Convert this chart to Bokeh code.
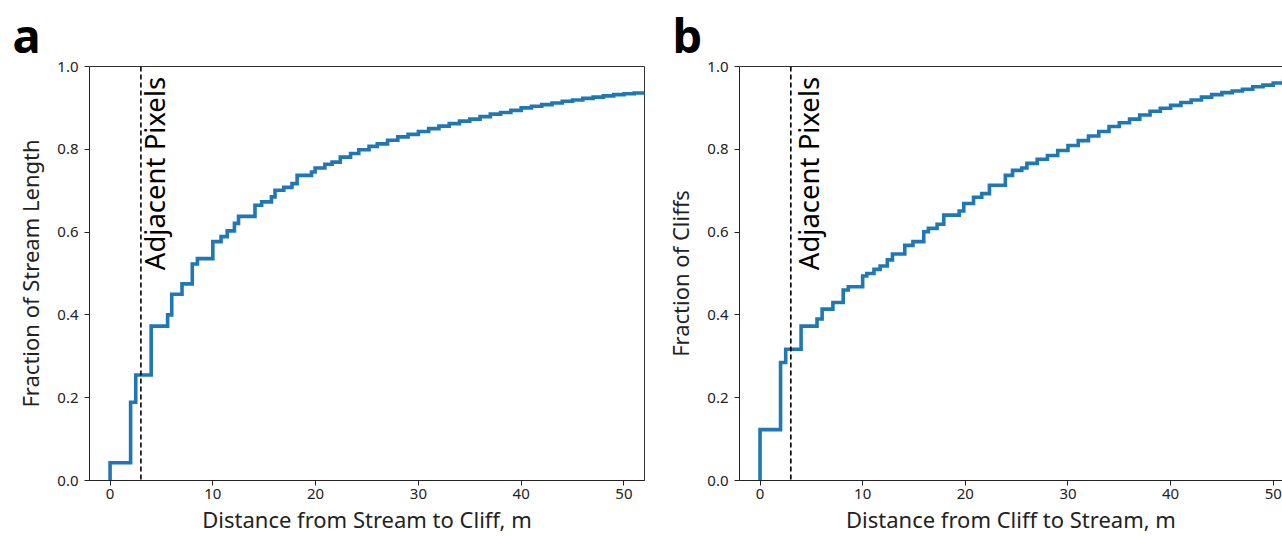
import math
from bokeh.plotting import figure
from bokeh.models import Label, Span, LinearAxis, FixedTicker, PrintfTickFormatter, Range1d
from bokeh.layouts import row
from bokeh.embed import file_html
from bokeh.resources import INLINE

# ---- data ----
stream_dist = [0, 0, 2, 2.5, 4, 5.6, 6, 7, 8, 8.5, 10, 10.8, 11.4, 12.1, 12.5,
               14.1, 14.75, 15.7, 16.05, 16.9, 17.7, 18.2, 19.6, 19.95, 20.9,
               21.6, 22.4, 23.4, 24.2, 25.2, 26, 27, 28, 29, 30, 31, 32, 33, 34,
               35, 36, 37, 38, 39, 40, 41, 42, 43, 44, 45, 46, 47, 48, 49, 50, 51, 52]
stream_frac = [0, 0.043, 0.189, 0.255, 0.373, 0.40, 0.45, 0.475, 0.523, 0.536,
               0.577, 0.589, 0.603, 0.621, 0.638, 0.665, 0.673, 0.685, 0.701, 0.708,
               0.717, 0.737, 0.745, 0.755, 0.764, 0.769, 0.781, 0.79, 0.799, 0.807,
               0.813, 0.822, 0.830, 0.836, 0.843, 0.850, 0.856, 0.862, 0.868, 0.873,
               0.879, 0.885, 0.889, 0.894, 0.900, 0.904, 0.908, 0.912, 0.916, 0.919,
               0.923, 0.926, 0.929, 0.932, 0.934, 0.936, 0.938]

cliff_dist = [0, 0, 2, 2.5, 4, 5.55, 6.05, 7.1, 8.1, 8.6, 10, 10.4, 11.1, 11.7, 12.4,
              12.9, 14.1, 14.9, 15.95, 16.4, 17.25, 17.9, 19.4, 19.85, 20.8, 21.6,
              22.35, 23.9, 24.6, 25.5, 26, 27, 28, 29, 30, 31, 32, 33, 34, 35, 36,
              37, 38, 39, 40, 41, 42, 43, 44, 45, 46, 47, 48, 49, 50, 51, 52]
cliff_frac = [0, 0.123, 0.285, 0.317, 0.373, 0.39, 0.414, 0.43, 0.46, 0.468,
              0.494, 0.50, 0.51, 0.518, 0.533, 0.547, 0.568, 0.577, 0.601, 0.609,
              0.619, 0.641, 0.651, 0.669, 0.684, 0.693, 0.713, 0.737, 0.749, 0.755,
              0.766, 0.776, 0.785, 0.797, 0.809, 0.821, 0.832, 0.843, 0.855, 0.864,
              0.873, 0.883, 0.892, 0.899, 0.906, 0.913, 0.919, 0.926, 0.932, 0.937,
              0.941, 0.945, 0.951, 0.955, 0.960, 0.964, 0.967]

panel_letters = ["a", "b"]
adjacent_px = 3
x_ticks = [0, 10, 20, 30, 40, 50]
y_ticks = [0.0, 0.2, 0.4, 0.6, 0.8, 1.0]

FONT = "Noto Sans"
BLUE = "#1f77b4"


def make_panel(letter, xs, ys, xlabel, ylabel, width, left, right, x_end, text_x, full_box):
    p = figure(width=width, height=536, output_backend="svg",
               toolbar_location=None,
               x_range=Range1d(-2, x_end), y_range=Range1d(0, 1),
               min_border_left=left, min_border_right=right,
               min_border_top=66, min_border_bottom=55)
    p.grid.visible = False
    p.background_fill_color = "white"
    p.border_fill_color = "white"

    p.title.text = letter
    p.title.text_font = FONT
    p.title.text_font_size = "47px"
    p.title.text_font_style = "bold"
    p.title.text_color = "black"
    p.title.align = "left"
    p.title.offset = 12 - left
    p.title.standoff = 0

    for ax in (p.xaxis[0], p.yaxis[0]):
        ax.axis_line_color = "#222222"
        ax.axis_line_width = 1
        ax.major_tick_line_color = "#222222"
        ax.major_tick_in = 0
        ax.major_tick_out = 5
        ax.minor_tick_line_color = None
        ax.major_label_text_font = FONT
        ax.major_label_text_font_size = "15px"
        ax.major_label_text_color = "#222222"
        ax.axis_label_text_font = FONT
        ax.axis_label_text_font_size = "22px"
        ax.axis_label_text_font_style = "normal"
        ax.axis_label_text_color = "#222222"

    xa = p.xaxis[0]
    ya = p.yaxis[0]
    xa.ticker = FixedTicker(ticks=x_ticks)
    ya.ticker = FixedTicker(ticks=y_ticks)
    ya.formatter = PrintfTickFormatter(format="%.1f")
    xa.axis_label = xlabel
    ya.axis_label = ylabel
    xa.major_label_standoff = 3
    ya.major_label_standoff = 6
    xa.axis_label_standoff = 2
    ya.axis_label_standoff = 9

    if full_box:
        p.outline_line_color = "#333333"
        p.outline_line_width = 1
    else:
        p.outline_line_color = None
        top = LinearAxis(major_tick_line_color=None, minor_tick_line_color=None,
                         major_label_text_font_size="0px",
                         axis_line_color="#333333", axis_line_width=1)
        top.ticker = FixedTicker(ticks=[])
        p.add_layout(top, "above")

    p.add_layout(Span(location=adjacent_px, dimension="height", line_color="black",
                      line_width=1.6, line_dash="5 3"))

    p.step(xs, ys, mode="after", line_color=BLUE, line_width=3.6, line_join="miter")

    p.add_layout(Label(x=text_x, y=0.975, text="Adjacent Pixels", angle=math.pi / 2,
                       text_align="right", text_baseline="top",
                       text_font=FONT, text_font_size="27.5px", text_color="black"))
    return p


pa = make_panel(panel_letters[0], stream_dist, stream_frac,
                "Distance from Stream to Cliff, m",
                "Fraction of Stream Length", 660, 89, 16, 52, 2.5, True)
pb = make_panel(panel_letters[1], cliff_dist, cliff_frac,
                "Distance from Cliff to Stream, m",
                "Fraction of Cliffs", 622, 79, 0, 50.9, 2.9, False)

layout = row(pa, pb)
open("out.html", "w").write(file_html(layout, INLINE))
